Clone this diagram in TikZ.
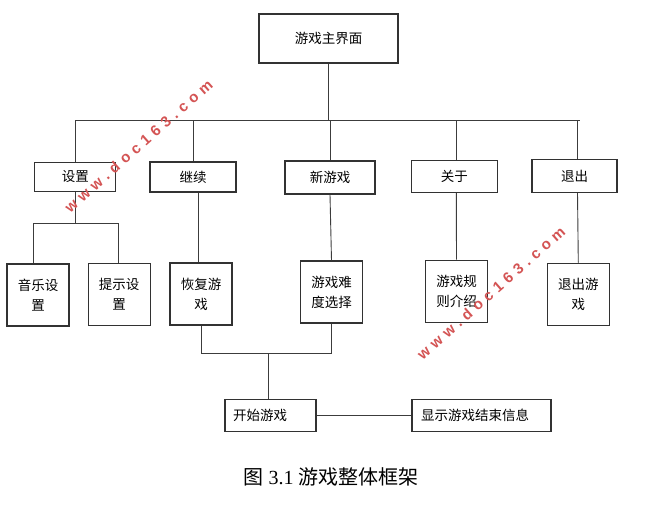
\documentclass[tikz,border=0pt]{standalone}
\usepackage{fontspec}
\setmainfont{Liberation Serif}
\newfontfamily\cjk{Noto Sans CJK SC}
\newfontfamily\wmfont[LetterSpace=34]{Liberation Sans}
\definecolor{wmred}{RGB}{212,84,84}
\definecolor{boxline}{RGB}{50,50,50}
\definecolor{connline}{RGB}{60,60,60}
\begin{document}
\begin{tikzpicture}[x=1pt,y=-1pt,
  box/.style={draw=boxline, line width=1.1pt, inner sep=0pt, align=center,
    font=\cjk\fontsize{13.5}{20}\selectfont},
  tall/.style={box, minimum width=62pt, minimum height=62pt},
  mid/.style={box, minimum height=31pt},
  conn/.style={draw=connline, line width=0.9pt},
  wm/.style={text=wmred, font=\wmfont\bfseries\fontsize{15}{15}\selectfont, inner sep=0pt}]
\useasboundingbox (0,0) rectangle (653,510);
\fill[white] (0,0) rectangle (653,510);

% top
\node[box, minimum width=139pt, minimum height=49pt] (main) at (328.5,38.5) {游戏主界面};

% level 1
\node[mid, minimum width=81pt, minimum height=29pt] (shezhi) at (75.3,176.8) {设置};
\node[mid, minimum width=86pt, minimum height=30pt] (jixu) at (193,177) {继续};
\node[mid, minimum width=90pt, minimum height=33pt] (xin) at (330,177.5) {新游戏};
\node[mid, minimum width=86pt, minimum height=32pt] (guanyu) at (454.3,176.7) {关于};
\node[mid, minimum width=85pt, minimum height=33pt] (tuichu) at (574.5,176) {退出};

% level 2
\node[tall] (yinyue) at (38,295) {音乐设\\置};
\node[tall] (tishi) at (119.2,294.2) {提示设\\置};
\node[tall] (huifu) at (201,294) {恢复游\\戏};
\node[tall] (nandu) at (331.5,292) {游戏难\\度选择};
\node[tall] (guize) at (456.5,291.3) {游戏规\\则介绍};
\node[tall] (tuichuyx) at (578.3,294.2) {退出游\\戏};

% bottom
\node[box, minimum height=32pt, text width=75pt, inner xsep=8pt, align=left] (kaishi) at (270.5,415.5) {开始游戏};
\node[box, minimum height=32pt, text width=121pt, inner xsep=9pt, align=left] (xianshi) at (481.5,415.5) {显示游戏结束信息};

% caption
\node[font=\fontsize{20}{24}\selectfont, inner sep=0pt] (cap) at (331,477) {{\cjk 图} 3.1 {\cjk 游戏整体框架}};

% connectors
\coordinate (hl) at (0,120.5);
\coordinate (sb) at (0,223);
\coordinate (mg) at (0,353);
\draw[conn] (main.south) -- (main.south |- hl);
\draw[conn] (shezhi.north |- hl) -- ([xshift=5pt]tuichu.north |- hl);
\draw[conn] (shezhi.north |- hl) -- (shezhi.north);
\draw[conn] (jixu.north |- hl) -- (jixu.north);
\draw[conn] (xin.north |- hl) -- (xin.north);
\draw[conn] ([xshift=2pt]guanyu.north |- hl) -- ([xshift=2pt]guanyu.north);
\draw[conn] ([xshift=3pt]tuichu.north |- hl) -- ([xshift=3pt]tuichu.north);

\draw[conn] (shezhi.south) -- (shezhi.south |- sb);
\draw[conn] ([xshift=-5pt]yinyue.north) -- ([xshift=-5pt]yinyue.north |- sb)
  -- ([xshift=-1pt]tishi.north |- sb) -- ([xshift=-1pt]tishi.north);
\draw[conn] ([xshift=5pt]jixu.south) -- ([xshift=-3pt]huifu.north);
\draw[conn] (xin.south) -- (nandu.north);
\draw[conn] ([xshift=2pt]guanyu.south) -- (guize.north);
\draw[conn] ([xshift=3pt]tuichu.south) -- (tuichuyx.north);

\draw[conn] (huifu.south) -- (huifu.south |- mg) -- (nandu.south |- mg) -- (nandu.south);
\draw[conn] ([xshift=-2.5pt]kaishi.north) -- ([xshift=-2.5pt]kaishi.north |- mg);
\draw[conn] (kaishi.east) -- (xianshi.west);

% watermarks
\node[wm, rotate=41.5] (wm1) at (138.5,146) {www.doc163.com};
\node[wm, rotate=41.5] (wm2) at (491,293) {www.doc163.com};
\end{tikzpicture}
\end{document}
